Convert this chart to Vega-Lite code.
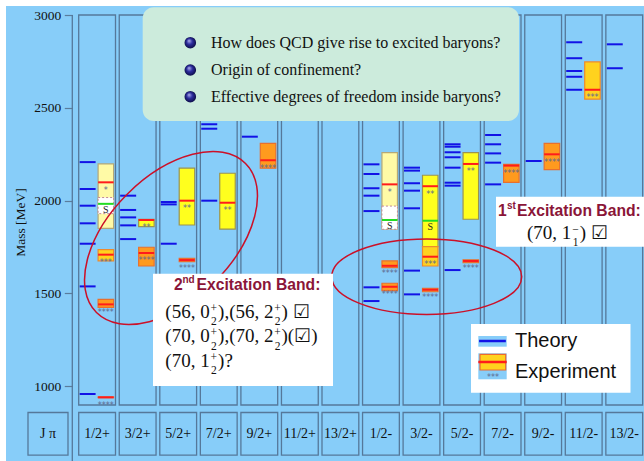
{
  "$schema": "https://vega.github.io/schema/vega-lite/v6.json",
  "width": 638,
  "height": 455,
  "autosize": {"type": "none"},
  "padding": {"left": 6, "top": 6, "right": 0, "bottom": 0},
  "background": "#ffffff",
  "config": {
    "view": {"fill": "#87CDF9", "stroke": null},
    "axisY": {
      "offset": -66.3, "domain": false, "grid": false, "tickSize": 8, "tickColor": "#5a7c9c", "tickWidth": 1.2,
      "labelFont": "Liberation Serif", "labelFontSize": 13.5, "labelColor": "#111111", "labelPadding": 3.5,
      "titleFont": "Liberation Serif", "titleFontSize": 13.5, "titleFontWeight": "normal",
      "titleColor": "#111111", "titleX": -52.3, "titleY": 216, "titleAngle": -90, "titleAlign": "center", "titleBaseline": "middle"
    }
  },
  "datasets": {
    "columns": [
      {"slot": 1, "jp": "1/2+"}, {"slot": 2, "jp": "3/2+"}, {"slot": 3, "jp": "5/2+"},
      {"slot": 4, "jp": "7/2+"}, {"slot": 5, "jp": "9/2+"}, {"slot": 6, "jp": "11/2+"},
      {"slot": 7, "jp": "13/2+"}, {"slot": 8, "jp": "1/2-"}, {"slot": 9, "jp": "3/2-"},
      {"slot": 10, "jp": "5/2-"}, {"slot": 11, "jp": "7/2-"}, {"slot": 12, "jp": "9/2-"},
      {"slot": 13, "jp": "11/2-"}, {"slot": 14, "jp": "13/2-"}
    ],
    "theory": [
      {"slot": 1, "mass": 2207}, {"slot": 1, "mass": 2062}, {"slot": 1, "mass": 1972}, {"slot": 1, "mass": 1877},
      {"slot": 1, "mass": 1767}, {"slot": 1, "mass": 1537}, {"slot": 1, "mass": 957},
      {"slot": 2, "mass": 2026}, {"slot": 2, "mass": 1949}, {"slot": 2, "mass": 1909}, {"slot": 2, "mass": 1866}, {"slot": 2, "mass": 1792},
      {"slot": 3, "mass": 1992}, {"slot": 3, "mass": 1979}, {"slot": 3, "mass": 1767},
      {"slot": 4, "mass": 2411}, {"slot": 4, "mass": 2387}, {"slot": 4, "mass": 1999},
      {"slot": 5, "mass": 2344},
      {"slot": 8, "mass": 2195}, {"slot": 8, "mass": 2143}, {"slot": 8, "mass": 2066}, {"slot": 8, "mass": 2026},
      {"slot": 8, "mass": 1943}, {"slot": 8, "mass": 1532}, {"slot": 8, "mass": 1458},
      {"slot": 9, "mass": 2177}, {"slot": 9, "mass": 2161}, {"slot": 9, "mass": 2093}, {"slot": 9, "mass": 2053},
      {"slot": 9, "mass": 1958}, {"slot": 9, "mass": 1622}, {"slot": 9, "mass": 1494},
      {"slot": 10, "mass": 2303}, {"slot": 10, "mass": 2290}, {"slot": 10, "mass": 2260}, {"slot": 10, "mass": 2233},
      {"slot": 10, "mass": 2177}, {"slot": 10, "mass": 2096}, {"slot": 10, "mass": 2080}, {"slot": 10, "mass": 1625},
      {"slot": 11, "mass": 2353}, {"slot": 11, "mass": 2303}, {"slot": 11, "mass": 2254}, {"slot": 11, "mass": 2204}, {"slot": 11, "mass": 2087},
      {"slot": 12, "mass": 2213},
      {"slot": 13, "mass": 2853}, {"slot": 13, "mass": 2767}, {"slot": 13, "mass": 2698}, {"slot": 13, "mass": 2667}, {"slot": 13, "mass": 2597},
      {"slot": 14, "mass": 2842}, {"slot": 14, "mass": 2713}
    ],
    "experiment": [
      {"slot": 1, "name": "N(939)", "rating": "****", "lo": 937, "hi": 941, "mass": 939},
      {"slot": 1, "name": "N(1440)", "rating": "****", "lo": 1424, "hi": 1467, "mass": 1440},
      {"slot": 1, "name": "N(1710)", "rating": "***", "lo": 1675, "hi": 1735, "mass": 1708},
      {"slot": 1, "name": "N(2100)", "rating": "*", "lo": 1850, "hi": 2197, "mass": 2098},
      {"slot": 2, "name": "N(1720)", "rating": "****", "lo": 1647, "hi": 1748, "mass": 1717},
      {"slot": 2, "name": "N(1900)", "rating": "**", "lo": 1859, "hi": 1899, "mass": 1895},
      {"slot": 3, "name": "N(1680)", "rating": "****", "lo": 1670, "hi": 1688, "mass": 1679},
      {"slot": 3, "name": "N(2000)", "rating": "**", "lo": 1868, "hi": 2174, "mass": 1999},
      {"slot": 4, "name": "N(1990)", "rating": "**", "lo": 1846, "hi": 2147, "mass": 1988},
      {"slot": 5, "name": "N(2220)", "rating": "****", "lo": 2174, "hi": 2308, "mass": 2217},
      {"slot": 8, "name": "N(1535)", "rating": "****", "lo": 1514, "hi": 1554, "mass": 1535},
      {"slot": 8, "name": "N(1650)", "rating": "****", "lo": 1638, "hi": 1675, "mass": 1648},
      {"slot": 8, "name": "N(2090)", "rating": "*", "lo": 1845, "hi": 2258, "mass": 2087},
      {"slot": 9, "name": "N(1520)", "rating": "****", "lo": 1508, "hi": 1527, "mass": 1519},
      {"slot": 9, "name": "N(2080)", "rating": "**", "lo": 1751, "hi": 2136, "mass": 2077},
      {"slot": 9, "name": "N(1700)", "rating": "***", "lo": 1647, "hi": 1751, "mass": 1697},
      {"slot": 10, "name": "N(1675)", "rating": "****", "lo": 1665, "hi": 1680, "mass": 1674},
      {"slot": 10, "name": "N(2200)", "rating": "**", "lo": 1899, "hi": 2258, "mass": 2197},
      {"slot": 11, "name": "N(2190)", "rating": "****", "lo": 2098, "hi": 2195, "mass": 2188},
      {"slot": 12, "name": "N(2250)", "rating": "****", "lo": 2166, "hi": 2308, "mass": 2249},
      {"slot": 13, "name": "N(2600)", "rating": "***", "lo": 2546, "hi": 2747, "mass": 2597}
    ],
    "seen": [
      {"slot": 1, "mass": 1982, "lo": 1929, "hi": 2016},
      {"slot": 8, "mass": 1895, "lo": 1845, "hi": 1970},
      {"slot": 9, "mass": 1891, "lo": null, "hi": null}
    ]
  },
  "layer": [
    {
      "data": {"name": "theory"},
      "mark": {"type": "rule", "stroke": "#1212e6", "strokeWidth": 2, "xOffset": -17.5, "x2Offset": -1.5},
      "encoding": {
        "x": {"field": "slot", "type": "quantitative", "scale": {"domain": [-1.24661, 14.48705], "nice": false, "zero": false}, "axis": null},
        "x2": {"field": "slot"},
        "y": {"field": "mass", "type": "quantitative",
          "scale": {"domain": [595.69, 3048.52], "nice": false, "zero": false},
          "axis": {"values": [1000, 1500, 2000, 2500, 3000], "format": "d", "title": "Mass [MeV]"}}
      }
    },
    {
      "data": {"name": "columns"},
      "mark": {"type": "rect", "filled": false, "stroke": "#55789a", "strokeWidth": 1.3, "xOffset": -18.4, "x2Offset": 18.4},
      "encoding": {
        "x": {"field": "slot", "type": "quantitative", "axis": null},
        "x2": {"field": "slot"},
        "y": {"datum": 3000, "type": "quantitative"},
        "y2": {"datum": 897.6}
      }
    },
    {
      "data": {"name": "columns"},
      "mark": {"type": "rect", "filled": false, "stroke": "#55789a", "strokeWidth": 1.3, "xOffset": -18.4, "x2Offset": 18.4},
      "encoding": {
        "x": {"field": "slot", "type": "quantitative", "axis": null},
        "x2": {"field": "slot"},
        "y": {"datum": 857.2, "type": "quantitative"},
        "y2": {"datum": 627.0}
      }
    },
    {
      "data": {"name": "columns"},
      "mark": {"type": "text", "font": "Liberation Serif", "fontSize": 14, "fill": "#111111", "align": "center", "baseline": "middle"},
      "encoding": {
        "x": {"field": "slot", "type": "quantitative", "axis": null},
        "y": {"datum": 738.6, "type": "quantitative"},
        "text": {"field": "jp"}
      }
    },
    {
      "data": {"values": [{"label": "J π"}]},
      "mark": {"type": "rect", "filled": false, "stroke": "#55789a", "strokeWidth": 1.3},
      "encoding": {
        "x": {"datum": -0.70407, "type": "quantitative", "axis": null},
        "x2": {"datum": 0.28237},
        "y": {"datum": 857.2, "type": "quantitative"},
        "y2": {"datum": 627.0}
      }
    },
    {
      "data": {"values": [{"label": "J π"}]},
      "mark": {"type": "text", "font": "Liberation Serif", "fontSize": 14, "fill": "#111111", "align": "center", "baseline": "middle"},
      "encoding": {
        "x": {"datum": -0.21085, "type": "quantitative", "axis": null},
        "y": {"datum": 738.6, "type": "quantitative"},
        "text": {"field": "label"}
      }
    },
    {
      "data": {"values": [{}]},
      "mark": {"type": "rule", "stroke": "#55789a", "strokeWidth": 1.3},
      "encoding": {
        "x": {"datum": 0.38841, "type": "quantitative", "axis": null},
        "y": {"datum": 3000, "type": "quantitative"},
        "y2": {"datum": 595.69}
      }
    },
    {
      "data": {"name": "experiment"},
      "mark": {"type": "rect", "strokeWidth": 1.2, "xOffset": 1, "x2Offset": 16.5},
      "encoding": {
        "x": {"field": "slot", "type": "quantitative", "axis": null},
        "x2": {"field": "slot"},
        "y": {"field": "lo", "type": "quantitative"},
        "y2": {"field": "hi"},
        "fill": {"field": "rating", "type": "nominal", "legend": null,
          "scale": {"domain": ["****", "***", "**", "*"], "range": ["#FF9A1E", "#FFD21E", "#FFFF1E", "#FFFAA6"]}},
        "stroke": {"field": "rating", "type": "nominal", "legend": null,
          "scale": {"domain": ["****", "***", "**", "*"], "range": ["#E8702E", "#EE8A2E", "#9c9450", "#b4a878"]}},
        "strokeDash": {"field": "rating", "type": "nominal", "legend": null,
          "scale": {"domain": ["****", "***", "**", "*"], "range": [[1, 0], [1, 0], [2, 2], [2, 2]]}}
      }
    },
    {
      "data": {"name": "seen"},
      "transform": [{"filter": "isValid(datum.lo)"}],
      "mark": {"type": "rect", "fill": "#ffffff", "stroke": "#c08898", "strokeDash": [2, 2], "strokeWidth": 1, "xOffset": 1, "x2Offset": 16.5},
      "encoding": {
        "x": {"field": "slot", "type": "quantitative", "axis": null},
        "x2": {"field": "slot"},
        "y": {"field": "lo", "type": "quantitative"},
        "y2": {"field": "hi"}
      }
    },
    {
      "data": {"name": "seen"},
      "mark": {"type": "rule", "stroke": "#22dd22", "strokeWidth": 2, "xOffset": 1, "x2Offset": 16.5},
      "encoding": {
        "x": {"field": "slot", "type": "quantitative", "axis": null},
        "x2": {"field": "slot"},
        "y": {"field": "mass", "type": "quantitative"}
      }
    },
    {
      "data": {"name": "seen"},
      "mark": {"type": "text", "text": "S", "font": "Liberation Serif", "fontSize": 10, "fill": "#222222", "align": "center", "baseline": "alphabetic", "xOffset": 8.75, "dy": 9.5},
      "encoding": {
        "x": {"field": "slot", "type": "quantitative", "axis": null},
        "y": {"field": "mass", "type": "quantitative"}
      }
    },
    {
      "data": {"name": "experiment"},
      "mark": {"type": "rule", "stroke": "#ff1c1c", "strokeWidth": 2, "xOffset": 1, "x2Offset": 16.5},
      "encoding": {
        "x": {"field": "slot", "type": "quantitative", "axis": null},
        "x2": {"field": "slot"},
        "y": {"field": "mass", "type": "quantitative"}
      }
    },
    {
      "data": {"name": "experiment"},
      "mark": {"type": "text", "font": "DejaVu Sans", "fontSize": 8, "fill": "#5d6890", "align": "center", "baseline": "alphabetic", "xOffset": 8.75, "dy": 10.5},
      "encoding": {
        "x": {"field": "slot", "type": "quantitative", "axis": null},
        "y": {"field": "mass", "type": "quantitative"},
        "text": {"field": "rating"}
      }
    },
    {
      "data": {"values": [{"band": "2nd"}]},
      "mark": {"type": "point", "shape": "M1,0C1,0.3248,0.5523,0.588,0,0.588C-0.5523,0.588,-1,0.3248,-1,0C-1,-0.3248,-0.5523,-0.588,0,-0.588C0.5523,-0.588,1,-0.3248,1,0Z",
        "size": 44437, "angle": 315, "filled": false, "stroke": "#cc1028", "strokeWidth": 1.5, "opacity": 1},
      "encoding": {
        "x": {"datum": 2.82244, "type": "quantitative", "axis": null},
        "y": {"datum": 1797.9, "type": "quantitative"}
      }
    },
    {
      "data": {"values": [{"band": "1st"}]},
      "mark": {"type": "point", "shape": "M1,0C1,0.2192,0.5523,0.397,0,0.397C-0.5523,0.397,-1,0.2192,-1,0C-1,-0.2192,-0.5523,-0.397,0,-0.397C0.5523,-0.397,1,-0.2192,1,0Z",
        "size": 36100, "filled": false, "stroke": "#cc1028", "strokeWidth": 1.5, "opacity": 1},
      "encoding": {
        "x": {"datum": 9.12824, "type": "quantitative", "axis": null},
        "y": {"datum": 1589.2, "type": "quantitative"}
      }
    },
    {
      "data": {"values": [{}]},
      "mark": {"type": "rect", "fill": "#CCEBDC", "cornerRadius": 11},
      "encoding": {
        "x": {"datum": 2.12454, "type": "quantitative", "axis": null},
        "x2": {"datum": 11.40444},
        "y": {"datum": 3041.5, "type": "quantitative"},
        "y2": {"datum": 2428.6}
      }
    },
    {
      "data": {"values": [{}]},
      "mark": {"type": "point", "shape": "circle", "size": 135, "filled": true, "opacity": 1, "strokeWidth": 0,
        "fill": {"gradient": "radial", "x1": 0.38, "y1": 0.32, "r1": 0, "x2": 0.5, "y2": 0.5, "r2": 0.55,
          "stops": [{"offset": 0, "color": "#b8b8f0"}, {"offset": 0.45, "color": "#2c2ca0"}, {"offset": 1, "color": "#0a0a3c"}]}},
      "encoding": {
        "x": {"datum": 3.2984, "type": "quantitative", "axis": null},
        "y": {"datum": 2850.7, "type": "quantitative"}
      }
    },
    {
      "data": {"values": [{}]},
      "mark": {"type": "point", "shape": "circle", "size": 135, "filled": true, "opacity": 1, "strokeWidth": 0,
        "fill": {"gradient": "radial", "x1": 0.38, "y1": 0.32, "r1": 0, "x2": 0.5, "y2": 0.5, "r2": 0.55,
          "stops": [{"offset": 0, "color": "#b8b8f0"}, {"offset": 0.45, "color": "#2c2ca0"}, {"offset": 1, "color": "#0a0a3c"}]}},
      "encoding": {
        "x": {"datum": 3.2984, "type": "quantitative", "axis": null},
        "y": {"datum": 2703.5, "type": "quantitative"}
      }
    },
    {
      "data": {"values": [{}]},
      "mark": {"type": "point", "shape": "circle", "size": 135, "filled": true, "opacity": 1, "strokeWidth": 0,
        "fill": {"gradient": "radial", "x1": 0.38, "y1": 0.32, "r1": 0, "x2": 0.5, "y2": 0.5, "r2": 0.55,
          "stops": [{"offset": 0, "color": "#b8b8f0"}, {"offset": 0.45, "color": "#2c2ca0"}, {"offset": 1, "color": "#0a0a3c"}]}},
      "encoding": {
        "x": {"datum": 3.2984, "type": "quantitative", "axis": null},
        "y": {"datum": 2559.6, "type": "quantitative"}
      }
    },
    {
      "data": {"values": [{}]},
      "mark": {"type": "text", "text": ["How does QCD give rise to excited baryons?", "Origin of confinement?", "Effective degrees of freedom inside baryons?"],
        "lineHeight": 27, "font": "Liberation Serif", "fontSize": 16, "fill": "#111111", "align": "left", "baseline": "middle"},
      "encoding": {
        "x": {"datum": 3.80888, "type": "quantitative", "axis": null},
        "y": {"datum": 2850.7, "type": "quantitative"}
      }
    },
    {
      "data": {"values": [{}]},
      "mark": {"type": "rect", "fill": "#ffffff"},
      "encoding": {
        "x": {"datum": 2.37854, "type": "quantitative", "axis": null},
        "x2": {"datum": 6.81751},
        "y": {"datum": 1605.4, "type": "quantitative"},
        "y2": {"datum": 1000.0}
      }
    },
    {
      "data": {"values": [{}]},
      "mark": {"type": "text", "text": "2", "font": "Liberation Sans", "fontSize": 15.7, "fontWeight": "bold", "fill": "#8a1538", "align": "left", "baseline": "middle"},
      "encoding": {
        "x": {"datum": 2.89642, "type": "quantitative", "axis": null},
        "y": {"datum": 1542.9, "type": "quantitative"}
      }
    },
    {
      "data": {"values": [{}]},
      "mark": {"type": "text", "text": "nd", "font": "Liberation Sans", "fontSize": 10, "fontWeight": "bold", "fill": "#8a1538", "align": "left", "baseline": "middle", "dy": -5},
      "encoding": {
        "x": {"datum": 3.10604, "type": "quantitative", "axis": null},
        "y": {"datum": 1542.9, "type": "quantitative"}
      }
    },
    {
      "data": {"values": [{}]},
      "mark": {"type": "text", "text": "Excitation Band:", "font": "Liberation Sans", "fontSize": 15.7, "fontWeight": "bold", "fill": "#8a1538", "align": "left", "baseline": "middle"},
      "encoding": {
        "x": {"datum": 3.45363, "type": "quantitative", "axis": null},
        "y": {"datum": 1542.9, "type": "quantitative"}
      }
    },
    {
      "data": {"values": [{}]},
      "mark": {"type": "text", "text": ["(56, 0", "(70, 0", "(70, 1"],
        "lineHeight": 24.5, "font": "Liberation Serif", "fontSize": 19, "fill": "#111111", "align": "left", "baseline": "alphabetic"},
      "encoding": {
        "x": {"datum": 2.68187, "type": "quantitative", "axis": null},
        "y": {"datum": 1366.6, "type": "quantitative"}
      }
    },
    {
      "data": {"values": [{}]},
      "mark": {"type": "text", "text": ["+", "+", "+"],
        "lineHeight": 24.5, "font": "Liberation Serif", "fontSize": 11.5, "fill": "#111111", "align": "left", "baseline": "alphabetic", "dx": 45.3, "dy": -6},
      "encoding": {
        "x": {"datum": 2.68187, "type": "quantitative", "axis": null},
        "y": {"datum": 1366.6, "type": "quantitative"}
      }
    },
    {
      "data": {"values": [{}]},
      "mark": {"type": "text", "text": ["2", "2", "2"],
        "lineHeight": 24.5, "font": "Liberation Serif", "fontSize": 11.5, "fill": "#111111", "align": "left", "baseline": "alphabetic", "dx": 45.8, "dy": 7.5},
      "encoding": {
        "x": {"datum": 2.68187, "type": "quantitative", "axis": null},
        "y": {"datum": 1366.6, "type": "quantitative"}
      }
    },
    {
      "data": {"values": [{}]},
      "mark": {"type": "text", "text": ["),(56, 2", "),(70, 2", ")?"],
        "lineHeight": 24.5, "font": "Liberation Serif", "fontSize": 19, "fill": "#111111", "align": "left", "baseline": "alphabetic", "dx": 52.8},
      "encoding": {
        "x": {"datum": 2.68187, "type": "quantitative", "axis": null},
        "y": {"datum": 1366.6, "type": "quantitative"}
      }
    },
    {
      "data": {"values": [{}]},
      "mark": {"type": "text", "text": ["+", "+"],
        "lineHeight": 24.5, "font": "Liberation Serif", "fontSize": 11.5, "fill": "#111111", "align": "left", "baseline": "alphabetic", "dx": 108.9, "dy": -6},
      "encoding": {
        "x": {"datum": 2.68187, "type": "quantitative", "axis": null},
        "y": {"datum": 1366.6, "type": "quantitative"}
      }
    },
    {
      "data": {"values": [{}]},
      "mark": {"type": "text", "text": ["2", "2"],
        "lineHeight": 24.5, "font": "Liberation Serif", "fontSize": 11.5, "fill": "#111111", "align": "left", "baseline": "alphabetic", "dx": 109.4, "dy": 7.5},
      "encoding": {
        "x": {"datum": 2.68187, "type": "quantitative", "axis": null},
        "y": {"datum": 1366.6, "type": "quantitative"}
      }
    },
    {
      "data": {"values": [{}]},
      "mark": {"type": "text", "text": [") ☑", ")(☑)"],
        "lineHeight": 24.5, "font": "Liberation Serif", "fontSize": 19, "fill": "#111111", "align": "left", "baseline": "alphabetic", "dx": 116.2},
      "encoding": {
        "x": {"datum": 2.68187, "type": "quantitative", "axis": null},
        "y": {"datum": 1366.6, "type": "quantitative"}
      }
    },
    {
      "data": {"values": [{}]},
      "mark": {"type": "rect", "fill": "#ffffff"},
      "encoding": {
        "x": {"datum": 10.83724, "type": "quantitative", "axis": null},
        "x2": {"datum": 14.48705},
        "y": {"datum": 2020.5, "type": "quantitative"},
        "y2": {"datum": 1751.0}
      }
    },
    {
      "data": {"values": [{}]},
      "mark": {"type": "text", "text": "1", "font": "Liberation Sans", "fontSize": 15.7, "fontWeight": "bold", "fill": "#8a1538", "align": "left", "baseline": "middle"},
      "encoding": {
        "x": {"datum": 10.88656, "type": "quantitative", "axis": null},
        "y": {"datum": 1943.4, "type": "quantitative"}
      }
    },
    {
      "data": {"values": [{}]},
      "mark": {"type": "text", "text": "st", "font": "Liberation Sans", "fontSize": 10, "fontWeight": "bold", "fill": "#8a1538", "align": "left", "baseline": "middle", "dy": -5},
      "encoding": {
        "x": {"datum": 11.10851, "type": "quantitative", "axis": null},
        "y": {"datum": 1943.4, "type": "quantitative"}
      }
    },
    {
      "data": {"values": [{}]},
      "mark": {"type": "text", "text": "Excitation Band:", "font": "Liberation Sans", "fontSize": 15.7, "fontWeight": "bold", "fill": "#8a1538", "align": "left", "baseline": "middle"},
      "encoding": {
        "x": {"datum": 11.35512, "type": "quantitative", "axis": null},
        "y": {"datum": 1943.4, "type": "quantitative"}
      }
    },
    {
      "data": {"values": [{}]},
      "mark": {"type": "text", "text": "(70, 1", "font": "Liberation Serif", "fontSize": 19, "fill": "#111111", "align": "left", "baseline": "alphabetic"},
      "encoding": {
        "x": {"datum": 11.60172, "type": "quantitative", "axis": null},
        "y": {"datum": 1792.5, "type": "quantitative"}
      }
    },
    {
      "data": {"values": [{}]},
      "mark": {"type": "text", "text": "−", "font": "Liberation Serif", "fontSize": 11.5, "fill": "#111111", "align": "left", "baseline": "alphabetic", "dx": 45.3, "dy": -6},
      "encoding": {
        "x": {"datum": 11.60172, "type": "quantitative", "axis": null},
        "y": {"datum": 1792.5, "type": "quantitative"}
      }
    },
    {
      "data": {"values": [{}]},
      "mark": {"type": "text", "text": "1", "font": "Liberation Serif", "fontSize": 11.5, "fill": "#111111", "align": "left", "baseline": "alphabetic", "dx": 45.8, "dy": 7.5},
      "encoding": {
        "x": {"datum": 11.60172, "type": "quantitative", "axis": null},
        "y": {"datum": 1792.5, "type": "quantitative"}
      }
    },
    {
      "data": {"values": [{}]},
      "mark": {"type": "text", "text": ") ☑", "font": "Liberation Serif", "fontSize": 19, "fill": "#111111", "align": "left", "baseline": "alphabetic", "dx": 52.8},
      "encoding": {
        "x": {"datum": 11.60172, "type": "quantitative", "axis": null},
        "y": {"datum": 1792.5, "type": "quantitative"}
      }
    },
    {
      "data": {"values": [{}]},
      "mark": {"type": "rect", "fill": "#ffffff"},
      "encoding": {
        "x": {"datum": 10.22071, "type": "quantitative", "axis": null},
        "x2": {"datum": 14.15413},
        "y": {"datum": 1334.2, "type": "quantitative"},
        "y2": {"datum": 963.9}
      }
    },
    {
      "data": {"values": [{}]},
      "mark": {"type": "rect", "fill": "#87CDF9"},
      "encoding": {
        "x": {"datum": 10.40074, "type": "quantitative", "axis": null},
        "x2": {"datum": 11.10111},
        "y": {"datum": 1269.5, "type": "quantitative"},
        "y2": {"datum": 1211.9}
      }
    },
    {
      "data": {"values": [{}]},
      "mark": {"type": "rule", "stroke": "#1212e6", "strokeWidth": 2.5},
      "encoding": {
        "x": {"datum": 10.42, "type": "quantitative", "axis": null},
        "x2": {"datum": 11.08},
        "y": {"datum": 1242.6, "type": "quantitative"}
      }
    },
    {
      "data": {"values": [{}]},
      "mark": {"type": "rect", "fill": "#87CDF9"},
      "encoding": {
        "x": {"datum": 10.40074, "type": "quantitative", "axis": null},
        "x2": {"datum": 11.10111},
        "y": {"datum": 1176.3, "type": "quantitative"},
        "y2": {"datum": 1036.1}
      }
    },
    {
      "data": {"values": [{}]},
      "mark": {"type": "rect", "fill": "#FFD21E", "stroke": "#EE6A2E", "strokeWidth": 1.2},
      "encoding": {
        "x": {"datum": 10.44266, "type": "quantitative", "axis": null},
        "x2": {"datum": 11.07645},
        "y": {"datum": 1170.9, "type": "quantitative"},
        "y2": {"datum": 1086.3}
      }
    },
    {
      "data": {"values": [{}]},
      "mark": {"type": "rule", "stroke": "#ff1c1c", "strokeWidth": 2.5},
      "encoding": {
        "x": {"datum": 10.40074, "type": "quantitative", "axis": null},
        "x2": {"datum": 11.10111},
        "y": {"datum": 1129.4, "type": "quantitative"}
      }
    },
    {
      "data": {"values": [{}]},
      "mark": {"type": "text", "text": "***", "font": "DejaVu Sans", "fontSize": 8, "fill": "#5d6890", "align": "center", "baseline": "alphabetic", "dy": 4.7},
      "encoding": {
        "x": {"datum": 10.76325, "type": "quantitative", "axis": null},
        "y": {"datum": 1059.3, "type": "quantitative"}
      }
    },
    {
      "data": {"values": [{"item": "Theory"}]},
      "mark": {"type": "text", "font": "Liberation Sans", "fontSize": 20, "fill": "#111111", "align": "left", "baseline": "middle"},
      "encoding": {
        "x": {"datum": 11.30579, "type": "quantitative", "axis": null},
        "y": {"datum": 1244.2, "type": "quantitative"},
        "text": {"field": "item"}
      }
    },
    {
      "data": {"values": [{"item": "Experiment"}]},
      "mark": {"type": "text", "font": "Liberation Sans", "fontSize": 20, "fill": "#111111", "align": "left", "baseline": "middle"},
      "encoding": {
        "x": {"datum": 11.30579, "type": "quantitative", "axis": null},
        "y": {"datum": 1077.1, "type": "quantitative"},
        "text": {"field": "item"}
      }
    }
  ]
}
